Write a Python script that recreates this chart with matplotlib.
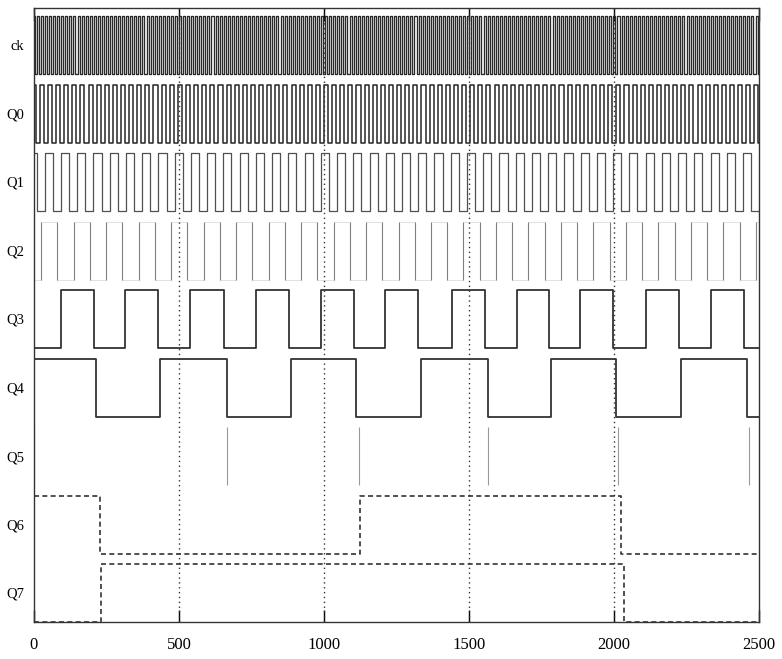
import matplotlib.pyplot as plt
import numpy as np

t_end = 2500
signals = ['ck', 'Q0', 'Q1', 'Q2', 'Q3', 'Q4', 'Q5', 'Q6', 'Q7']

# fast signals: half period and time of first edge
ck_half, ck_first = 7, 3
q0_half, q0_first = 14, 6
q1_half, q1_first = 28, 9
q2_half, q2_first = 56, 25

# slower signals: edge times
q3_edges = [0, 93, 208, 315, 426, 537, 654, 765, 880, 990, 1105, 1212, 1323,
            1440, 1555, 1666, 1776, 1884, 1998, 2109, 2223, 2334, 2448]
q4_edges = [0, 215, 433, 665, 886, 1112, 1333, 1565, 1783, 2008, 2230, 2458]
q5_spikes = [0, 665, 1122, 1565, 2015, 2465]
q6_edges = [228, 1125, 2024]
q7_edges = [232, 2033]

q3_start, q4_start, q6_start, q7_start = 1, 0, 1, 0

pitch = 68.5
height = 58


def base(name):
    return (len(signals) - 1 - signals.index(name)) * pitch


def wave(ax, name, edges, start, **kw):
    t = [0] + list(edges) + [t_end]
    lev = [(start + i) % 2 for i in range(len(edges) + 1)]
    lev = lev + [lev[-1]]
    y = base(name) + np.array(lev) * height
    ax.step(t, y, where='post', **kw)


fig = plt.figure(figsize=(7.82, 6.59), dpi=100)
ax = fig.add_axes([34 / 782, 1 - 622 / 659, 725 / 782, 614 / 659])
plt.rcParams['font.family'] = ['Liberation Serif', 'DejaVu Serif']

ck_edges = np.arange(ck_first, t_end, ck_half)
q0_edges = np.arange(q0_first, t_end, q0_half)
q1_edges = np.arange(q1_first, t_end, q1_half)
q2_edges = np.arange(q2_first, t_end, q2_half)

wave(ax, 'ck', ck_edges, 1, color='#2a2a2a', lw=0.95)
wave(ax, 'Q0', q0_edges, 1, color='#262626', lw=1.1)
wave(ax, 'Q1', q1_edges, 1, color='#505050', lw=0.9)
# Q2 prints mostly as its edges, the flat parts are very faint
wave(ax, 'Q2', q2_edges, 0, color='#dddddd', lw=0.6)
ax.vlines(q2_edges, base('Q2'), base('Q2') + height, color='#808080', lw=0.8)
wave(ax, 'Q3', q3_edges, q3_start, color='#333333', lw=1.3)
wave(ax, 'Q4', q4_edges, q4_start, color='#333333', lw=1.3)
ax.vlines(q5_spikes, base('Q5'), base('Q5') + height, color='#999999', lw=0.8)
wave(ax, 'Q6', q6_edges, q6_start, color='#333333', lw=1.2, ls=(0, (3, 2)))
wave(ax, 'Q7', q7_edges, q7_start, color='#333333', lw=1.2, ls=(0, (3, 2)))
ax.vlines([0], 0, base('Q6') + height + 8, color='#333333', lw=1.2)

for g in [500, 1000, 1500, 2000]:
    ax.axvline(g, color='#333333', lw=1.0, ls=(0, (1, 2.5)))

ax.set_xlim(0, t_end)
ax.set_ylim(0, 614)
ax.set_xticks([0, 500, 1000, 1500, 2000, 2500])
ax.set_xticklabels(['0', '500', '1000', '1500', '2000', '2500'],
                   family=['Liberation Serif'], fontsize=12)
ax.set_yticks([base(s) + height / 2 for s in signals])
ax.set_yticklabels(signals, family=['Liberation Serif'], fontsize=10.5)
ax.tick_params(axis='x', direction='in', length=9, top=True, pad=11, width=1)
ax.tick_params(axis='y', length=0, pad=7)
for s in ax.spines.values():
    s.set_color('#333333')
    s.set_linewidth(1.0)

fig.savefig('out.png', dpi=100)
